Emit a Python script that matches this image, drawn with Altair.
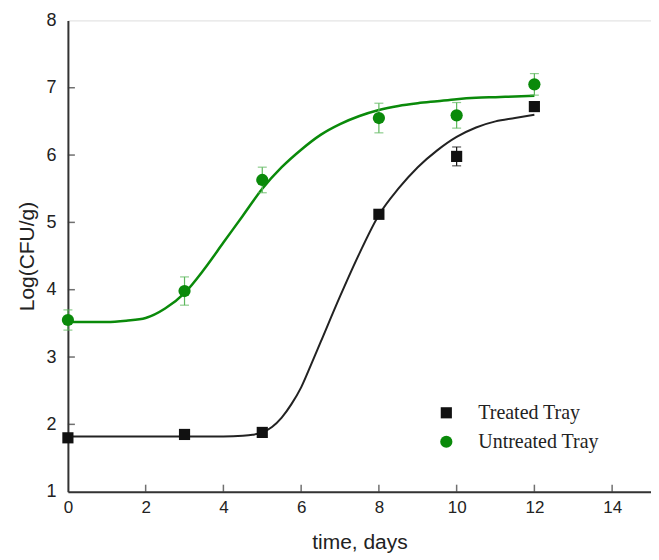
import altair as alt
import pandas as pd

# ---- data ----
time = [0, 3, 5, 8, 10, 12]
treated = [1.80, 1.85, 1.88, 5.12, 5.98, 6.72]
treated_err = [0.04, 0.03, 0.03, 0.05, 0.14, 0.06]
untreated = [3.55, 3.98, 5.63, 6.55, 6.59, 7.05]
untreated_err = [0.15, 0.21, 0.19, 0.22, 0.19, 0.16]

fit_t = [0, 1, 2, 3, 4, 4.5, 4.75, 5, 5.25, 5.5, 5.75, 6, 6.25, 6.5, 7, 7.5, 8, 8.5, 9, 9.5,
         10, 10.5, 11, 11.5, 12]
treated_fit = [1.82, 1.82, 1.82, 1.82, 1.82, 1.83, 1.845, 1.88, 1.96, 2.10, 2.30, 2.55, 2.88,
               3.22, 3.90, 4.54, 5.11, 5.50, 5.82, 6.07, 6.27, 6.41, 6.50, 6.55, 6.60]
fit_u = [0, 0.5, 1, 1.5, 2, 2.5, 3, 3.5, 4, 4.5, 5, 5.5, 6, 6.5, 7, 7.5, 8, 8.5, 9, 9.5,
         10, 10.5, 11, 11.5, 12]
untreated_fit = [3.52, 3.52, 3.52, 3.54, 3.58, 3.72, 3.95, 4.30, 4.70, 5.10, 5.50, 5.82,
                 6.08, 6.30, 6.46, 6.58, 6.67, 6.73, 6.77, 6.80, 6.83, 6.85, 6.86, 6.87, 6.88]

x_ticks = [2, 4, 6, 8, 10, 12, 14]
y_ticks = [2, 3, 4, 5, 6, 7]
series_names = ["Treated Tray", "Untreated Tray"]

W, H = 584, 472
BLACK = "#111111"
GREEN = "#0a8a0a"
ERR_GREEN = "#5cb85c"

pts = pd.DataFrame({
    "time": time * 2,
    "value": treated + untreated,
    "err": treated_err + untreated_err,
    "series": [series_names[0]] * len(time) + [series_names[1]] * len(time),
})
pts["lo"] = pts["value"] - pts["err"]
pts["hi"] = pts["value"] + pts["err"]

fit_tr = pd.DataFrame({"time": fit_t, "value": treated_fit})
fit_un = pd.DataFrame({"time": fit_u, "value": untreated_fit})

xs = alt.Scale(domain=[0, 15], nice=False)
ys = alt.Scale(domain=[1, 8], nice=False)

x_axis = alt.Axis(values=list(range(0, 16, 2)), title="time, days", grid=False, ticks=False,
                  format="d", labelFlush=False, labelOverlap=False,
                  labelFontSize=17, titleFontSize=21, titleFontWeight="normal",
                  labelPadding=8, titlePadding=16, domainColor="#333", domainWidth=2,
                  labelColor="#222", titleColor="#222", labelFont="Liberation Sans",
                  titleFont="Liberation Sans")
y_axis = alt.Axis(values=list(range(1, 9)), title="Log(CFU/g)", grid=False, ticks=False,
                  format="d", labelFlush=False, labelOverlap=False,
                  labelFontSize=18, titleFontSize=21, titleFontWeight="normal",
                  labelPadding=12, titlePadding=8, domainColor="#333", domainWidth=2,
                  labelColor="#222", titleColor="#222", labelFont="Liberation Sans",
                  titleFont="Liberation Sans")

line_tr = alt.Chart(fit_tr).mark_line(color="#222222", strokeWidth=2, interpolate="monotone").encode(
    x=alt.X("time:Q", scale=xs, axis=x_axis), y=alt.Y("value:Q", scale=ys, axis=y_axis))
line_un = alt.Chart(fit_un).mark_line(color=GREEN, strokeWidth=2.5, interpolate="monotone").encode(
    x=alt.X("time:Q", scale=xs), y=alt.Y("value:Q", scale=ys))


def err_layers(name, color):
    b = alt.Chart(pts).transform_filter(alt.datum.series == name)
    rule = b.mark_rule(strokeWidth=1.2, color=color).encode(
        x=alt.X("time:Q", scale=xs), y=alt.Y("lo:Q", scale=ys), y2="hi:Q")
    lo = b.mark_tick(orient="horizontal", size=9, thickness=1.2, color=color).encode(
        x=alt.X("time:Q", scale=xs), y=alt.Y("lo:Q", scale=ys))
    hi = b.mark_tick(orient="horizontal", size=9, thickness=1.2, color=color).encode(
        x=alt.X("time:Q", scale=xs), y=alt.Y("hi:Q", scale=ys))
    return [rule, lo, hi]


leg = alt.Legend(orient="none", legendX=369, legendY=383, title=None,
                 labelFont="Liberation Serif", labelFontSize=20,
                 labelColor="#222", labelOffset=22, rowPadding=9,
                 symbolSize=140, padding=0)

points = alt.Chart(pts).mark_point(filled=True, opacity=1, strokeWidth=0).encode(
    x=alt.X("time:Q", scale=xs), y=alt.Y("value:Q", scale=ys),
    color=alt.Color("series:N", title=None,
                    scale=alt.Scale(domain=series_names, range=[BLACK, GREEN]), legend=leg),
    shape=alt.Shape("series:N", title=None,
                    scale=alt.Scale(domain=series_names, range=["square", "circle"]), legend=leg),
    size=alt.Size("series:N", scale=alt.Scale(domain=series_names, range=[125, 150]), legend=None),
)

xt = pd.DataFrame({"t": x_ticks})
yt = pd.DataFrame({"t": y_ticks})
xtick_marks = alt.Chart(xt).mark_tick(orient="vertical", size=7, thickness=1.5, color="#333").encode(
    x=alt.X("t:Q", scale=xs), y=alt.value(H - 3.5))
ytick_marks = alt.Chart(yt).mark_tick(orient="horizontal", size=7, thickness=1.5, color="#333").encode(
    y=alt.Y("t:Q", scale=ys), x=alt.value(3.5))

chart = alt.layer(
    xtick_marks, ytick_marks, line_tr, line_un,
    *err_layers(series_names[0], BLACK), *err_layers(series_names[1], ERR_GREEN),
    points
).properties(
    width=W, height=H,
    autosize=alt.AutoSizeParams(type="none"),
    padding={"left": 60, "top": 12, "right": 0, "bottom": 66},
).configure_view(stroke="#333", strokeWidth=2).configure(background="white")

chart.save("out.html", embed_options={"renderer": "svg", "actions": False})
